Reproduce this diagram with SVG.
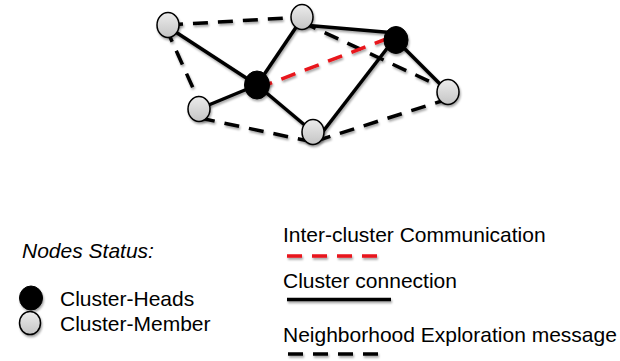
<svg xmlns="http://www.w3.org/2000/svg" width="620" height="361" viewBox="0 0 620 361">
<defs>
<linearGradient id="gm" x1="0" y1="0" x2="0" y2="1">
<stop offset="0" stop-color="#ececec"/>
<stop offset="1" stop-color="#c4c4c4"/>
</linearGradient>
<filter id="sh" filterUnits="userSpaceOnUse" x="0" y="0" width="620" height="361">
<feDropShadow dx="1" dy="2" stdDeviation="1.3" flood-color="#000" flood-opacity="0.35"/>
</filter>
<style>
.solid{stroke:#000;stroke-width:3.5;fill:none;stroke-linecap:butt}
.dash{stroke:#000;stroke-width:3.5;fill:none;stroke-dasharray:15 10}
.red{stroke:#e8141b;stroke-width:3.5;fill:none;stroke-dasharray:15 10}
.member{fill:url(#gm);stroke:#000;stroke-width:1.5}
.head{fill:#000;stroke:#000;stroke-width:1}
.t{font-family:"Liberation Sans",Arial,sans-serif;font-size:21px;fill:#000}
</style>
</defs>
<rect width="620" height="361" fill="#fff"/>
<g id="connectors" filter="url(#sh)">
<line class="dash" x1="168" y1="25" x2="303" y2="17"/>
<line class="dash" x1="166" y1="28" x2="202" y2="108"/>
<line class="dash" x1="200" y1="118" x2="313" y2="142"/>
<line class="dash" x1="316" y1="141" x2="448" y2="99"/>
<line class="dash" x1="302" y1="22" x2="448" y2="90"/>
<line class="solid" x1="168" y1="27" x2="257" y2="85"/>
<line class="solid" x1="303" y1="17" x2="257" y2="85"/>
<line class="solid" x1="257" y1="85" x2="199" y2="109"/>
<line class="solid" x1="257" y1="85" x2="313" y2="132"/>
<line class="solid" x1="303" y1="25" x2="396" y2="33"/>
<line class="solid" x1="392" y1="42" x2="318" y2="138"/>
<line class="solid" x1="396" y1="40" x2="448" y2="92"/>
<line class="red" x1="258" y1="88" x2="394" y2="36"/>
</g>
<g id="n-tl" filter="url(#sh)"><ellipse class="member" cx="168" cy="25" rx="11" ry="12.5"/></g>
<g id="n-top" filter="url(#sh)"><ellipse class="member" cx="302" cy="17" rx="11" ry="12.5"/></g>
<g id="n-lb" filter="url(#sh)"><ellipse class="member" cx="199" cy="109" rx="11" ry="12.5"/></g>
<g id="n-bottom" filter="url(#sh)"><ellipse class="member" cx="313" cy="132" rx="11" ry="12.5"/></g>
<g id="n-right" filter="url(#sh)"><ellipse class="member" cx="448" cy="92" rx="11" ry="12.5"/></g>
<g id="h-center" filter="url(#sh)"><ellipse class="head" cx="257" cy="85" rx="12.5" ry="14"/></g>
<g id="h-right" filter="url(#sh)"><ellipse class="head" cx="396" cy="40" rx="12" ry="13.5"/></g>
<g id="legend">
<text class="t" x="22" y="258" font-style="italic">Nodes Status:</text>
<g filter="url(#sh)">
<ellipse class="head" cx="31" cy="298" rx="11.5" ry="12"/>
<ellipse class="member" cx="30" cy="323" rx="10.5" ry="11.5"/>
</g>
<text class="t" x="60" y="306">Cluster-Heads</text>
<text class="t" x="60" y="331">Cluster-Member</text>
<text class="t" x="283" y="241.5">Inter-cluster Communication</text>
<line class="red" x1="287" y1="256" x2="385" y2="256" stroke-dasharray="16 11.5" stroke-width="4" filter="url(#sh)"/>
<text class="t" x="283" y="287.5">Cluster connection</text>
<line class="solid" x1="287" y1="299.5" x2="391" y2="299.5" stroke-width="4" filter="url(#sh)"/>
<text class="t" x="283" y="341.5">Neighborhood Exploration message</text>
<line class="dash" x1="288" y1="354" x2="385" y2="354" stroke-dasharray="16 11.5" stroke-width="4" filter="url(#sh)"/>
</g>
</svg>
